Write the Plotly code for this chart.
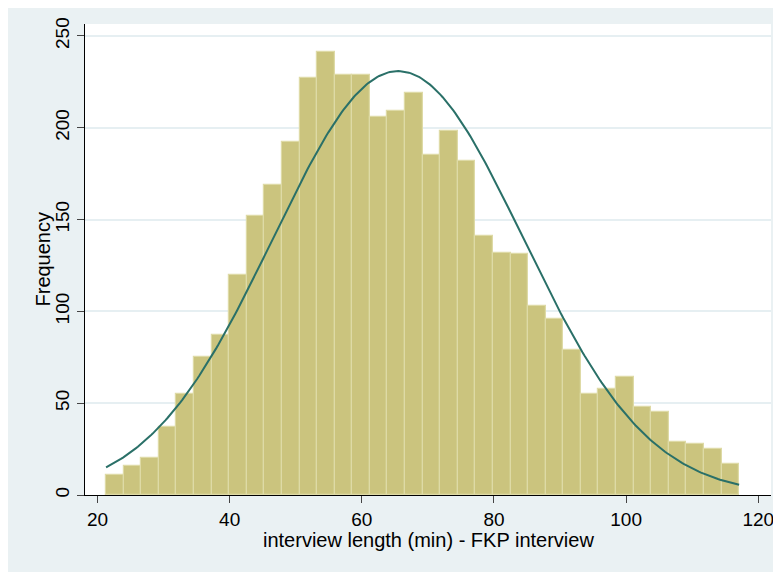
import numpy as np
import plotly.graph_objects as go

# ---- data ----
bin_start = 21.3
bin_width = 2.661
counts = [11, 16, 20, 37, 55, 75, 87, 120, 152, 169, 192, 227, 241, 229, 229, 206,
          209, 219, 185, 198, 182, 141, 132, 131, 103, 96, 79, 55, 58, 64, 48, 45,
          29, 28, 25, 17]
normal_mean = 65.5
normal_sd = 18.9
x_ticks = [20, 40, 60, 80, 100, 120]
y_ticks = [0, 50, 100, 150, 200, 250]
x_title = "interview length (min) - FKP interview"
y_title = "Frequency"

n_bins = len(counts)
centers = [bin_start + (i + 0.5) * bin_width for i in range(n_bins)]
x_min = bin_start
x_max = bin_start + n_bins * bin_width
N = sum(counts)
xs = np.linspace(x_min, x_max, 300)
ys = N * bin_width * np.exp(-0.5 * ((xs - normal_mean) / normal_sd) ** 2) / (normal_sd * np.sqrt(2 * np.pi))

fig = go.Figure()
fig.add_trace(go.Bar(
    x=centers, y=counts, width=bin_width,
    marker=dict(color="#CBC47E", line=dict(color="#DEDAA6", width=1.2)),
    showlegend=False, hoverinfo="x+y"))
fig.add_trace(go.Scatter(
    x=xs, y=ys, mode="lines",
    line=dict(color="#2A7068", width=2), showlegend=False))

FONT = "Liberation Sans, Arial, sans-serif"
BG = "#EAF1F3"

# page is offset by the 8px body margin; plot area on page: x 85..771, y 24..495
L, T = 77, 16
R, B = 781 - (771 - 8), 572 - (495 - 8)

fig.update_layout(
    width=781, height=572,
    margin=dict(l=L, r=R, t=T, b=B, pad=0, autoexpand=False),
    paper_bgcolor=BG, plot_bgcolor="white",
    bargap=0,
    font=dict(family=FONT, size=19, color="#000000"),
    xaxis=dict(
        range=[18.11, 121.92], tickvals=x_ticks, ticks="outside", ticklen=7,
        tickcolor="#444444", tickwidth=1.3, showgrid=False, zeroline=False,
        showline=True, linecolor="#000000", linewidth=1.3, automargin=False,
        tickfont=dict(family=FONT, size=19),
    ),
    yaxis=dict(
        range=[0, 256.5], tickvals=y_ticks, ticks="outside", ticklen=7,
        tickcolor="#444444", tickwidth=1.3, tickangle=-90,
        showgrid=True, gridcolor="#E6EFF2", gridwidth=1.5, zeroline=False,
        showline=True, linecolor="#000000", linewidth=1.3, automargin=False,
        tickfont=dict(family=FONT, size=19),
    ),
    annotations=[
        dict(text=x_title, xref="paper", yref="paper", x=0.5, y=0,
             xanchor="center", yanchor="middle", yshift=-45, showarrow=False,
             font=dict(family=FONT, size=20)),
        dict(text=y_title, xref="paper", yref="paper", x=0, y=0.5,
             xanchor="center", yanchor="middle", xshift=-43, textangle=-90,
             showarrow=False, font=dict(family=FONT, size=20)),
    ],
)

fig.write_html("out.html")
